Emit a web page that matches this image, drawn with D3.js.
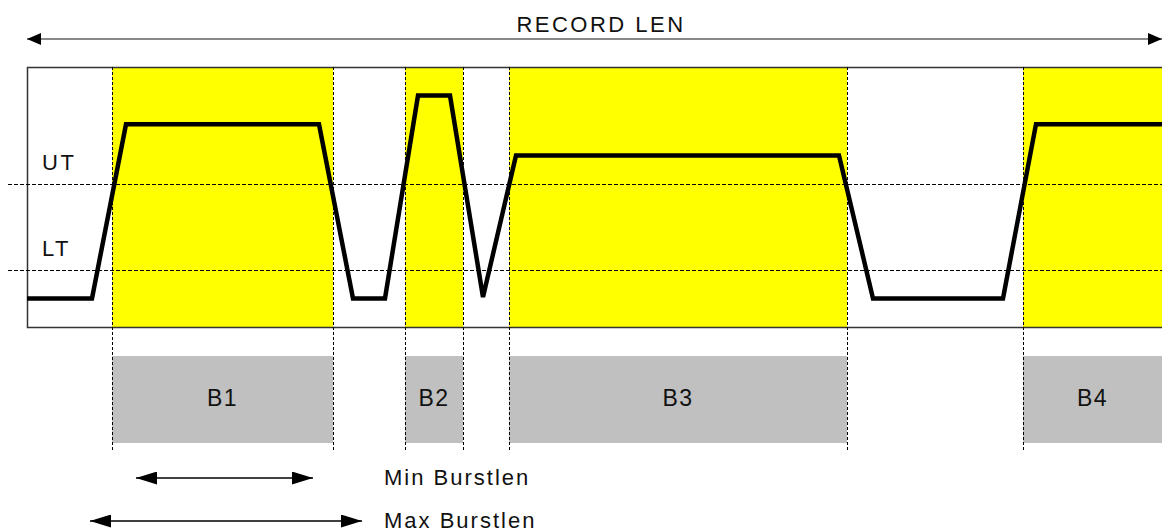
<!DOCTYPE html>
<html>
<head>
<meta charset="utf-8">
<script src="https://cdn.jsdelivr.net/npm/d3@7"></script>
<style>
  html, body { margin: 0; padding: 0; background: #fff; }
  svg { display: block; font-family: "Liberation Sans", Arial, sans-serif; }
</style>
</head>
<body>
<svg id="chart" width="1162" height="532"></svg>
<script>
// ---- data ----
const waveTime  = [0, 65, 99, 292, 326, 358, 391, 423, 456, 489, 812, 846, 976, 1009, 1135];
const waveLevel = [11, 11, 78, 78, 11, 11, 89, 89, 11.5, 66, 66, 11, 11, 78, 78];
const burstLabels = ["B1", "B2", "B3", "B4"];
const burstStart  = [85, 378, 482, 996];
const burstEnd    = [306, 436, 820, 1135];
const thresholdLabels = ["UT", "LT"];
const thresholdLevels = [55, 22];
const recordLen = [0, 1135];
const rangeLabels = ["Min Burstlen", "Max Burstlen"];
const rangeStart  = [109, 63];
const rangeEnd    = [286, 335];

// ---- layout ----
const svg = d3.select("#chart");
const x = d3.scaleLinear().domain([0, 1135]).range([27, 1162]);
const y = d3.scaleLinear().domain([0, 100]).range([327, 67]);
const plotTop = 67, plotBottom = 327, plotLeft = 27, plotRight = 1162;
const boxTop = 356, boxBottom = 443, dashBottom = 450;

const defs = svg.append("defs");
function marker(id, color, w, h) {
  const m = defs.append("marker").attr("id", id)
    .attr("viewBox", `0 0 ${w} ${h}`).attr("refX", w).attr("refY", h / 2)
    .attr("markerWidth", w).attr("markerHeight", h)
    .attr("markerUnits", "userSpaceOnUse").attr("orient", "auto-start-reverse");
  m.append("path").attr("d", `M0,0L${w},${h/2}L0,${h}Z`).attr("fill", color);
}
marker("ahBig", "#000", 14, 12);
marker("ahSmall", "#000", 21, 13);

const bursts = burstLabels.map((l, i) => ({label: l, s: burstStart[i], e: burstEnd[i]}));

// yellow burst regions
svg.append("g").selectAll("rect").data(bursts).join("rect")
  .attr("x", d => x(d.s)).attr("y", plotTop)
  .attr("width", d => x(d.e) - x(d.s)).attr("height", plotBottom - plotTop)
  .attr("fill", "#ffff00");

// gray burst boxes
svg.append("g").selectAll("rect").data(bursts).join("rect")
  .attr("x", d => x(d.s)).attr("y", boxTop)
  .attr("width", d => x(d.e) - x(d.s)).attr("height", boxBottom - boxTop)
  .attr("fill", "#c0c0c0");
svg.append("g").selectAll("text").data(bursts).join("text")
  .attr("x", d => (x(d.s) + x(d.e)) / 2).attr("y", 406)
  .attr("text-anchor", "middle").attr("font-size", 23).attr("letter-spacing", 1.5)
  .attr("fill", "#111").text(d => d.label);

// frame
svg.append("path")
  .attr("d", `M${plotRight},${plotTop + 0.5}H${plotLeft + 0.5}V${plotBottom + 0.5}H${plotRight}`)
  .attr("fill", "none").attr("stroke", "#333").attr("stroke-width", 1.5);

// vertical dashed burst edges
const edges = bursts.flatMap(d => [d.s, d.e]).filter(t => t < 1135);
svg.append("g").selectAll("line").data(edges).join("line")
  .attr("x1", d => Math.round(x(d)) + 0.5).attr("x2", d => Math.round(x(d)) + 0.5)
  .attr("y1", plotTop).attr("y2", dashBottom)
  .attr("stroke", "#000").attr("stroke-width", 1.2).attr("stroke-dasharray", "3,2")
  .attr("shape-rendering", "crispEdges");

// threshold lines
const thr = thresholdLabels.map((l, i) => ({label: l, v: thresholdLevels[i]}));
svg.append("g").selectAll("line").data(thr).join("line")
  .attr("x1", 8).attr("x2", plotRight)
  .attr("y1", d => Math.round(y(d.v)) + 0.5).attr("y2", d => Math.round(y(d.v)) + 0.5)
  .attr("stroke", "#000").attr("stroke-width", 1.2).attr("stroke-dasharray", "4,2")
  .attr("shape-rendering", "crispEdges");
svg.append("g").selectAll("text").data(thr).join("text")
  .attr("x", 42).attr("y", d => y(d.v) - 14)
  .attr("font-size", 22).attr("letter-spacing", 2.5).attr("fill", "#111")
  .text(d => d.label);

// waveform
const pts = waveTime.map((t, i) => [t, waveLevel[i]]);
svg.append("path")
  .attr("d", d3.line().x(d => x(d[0])).y(d => y(d[1]))(pts))
  .attr("fill", "none").attr("stroke", "#000").attr("stroke-width", 4.5)
  .attr("stroke-linejoin", "miter");

// RECORD LEN arrow
svg.append("line")
  .attr("x1", x(recordLen[0])).attr("x2", x(recordLen[1]))
  .attr("y1", 39).attr("y2", 39)
  .attr("stroke", "#888").attr("stroke-width", 2)
  .attr("marker-start", "url(#ahBig)").attr("marker-end", "url(#ahBig)");
svg.append("text")
  .attr("x", 601).attr("y", 32)
  .attr("text-anchor", "middle").attr("font-size", 22).attr("letter-spacing", 2.5)
  .attr("fill", "#111").text("RECORD LEN");

// Min / Max burst length arrows
const ranges = rangeLabels.map((l, i) => ({label: l, s: rangeStart[i], e: rangeEnd[i]}));
const rangeY = [478, 521];
svg.append("g").selectAll("line").data(ranges).join("line")
  .attr("x1", d => x(d.s)).attr("x2", d => x(d.e))
  .attr("y1", (d, i) => rangeY[i]).attr("y2", (d, i) => rangeY[i])
  .attr("stroke", "#000").attr("stroke-width", 1.5)
  .attr("marker-start", "url(#ahSmall)").attr("marker-end", "url(#ahSmall)");
svg.append("g").selectAll("text").data(ranges).join("text")
  .attr("x", 384).attr("y", (d, i) => rangeY[i] + 7)
  .attr("font-size", 22).attr("letter-spacing", 2).attr("fill", "#111")
  .text(d => d.label);
</script>
</body>
</html>
